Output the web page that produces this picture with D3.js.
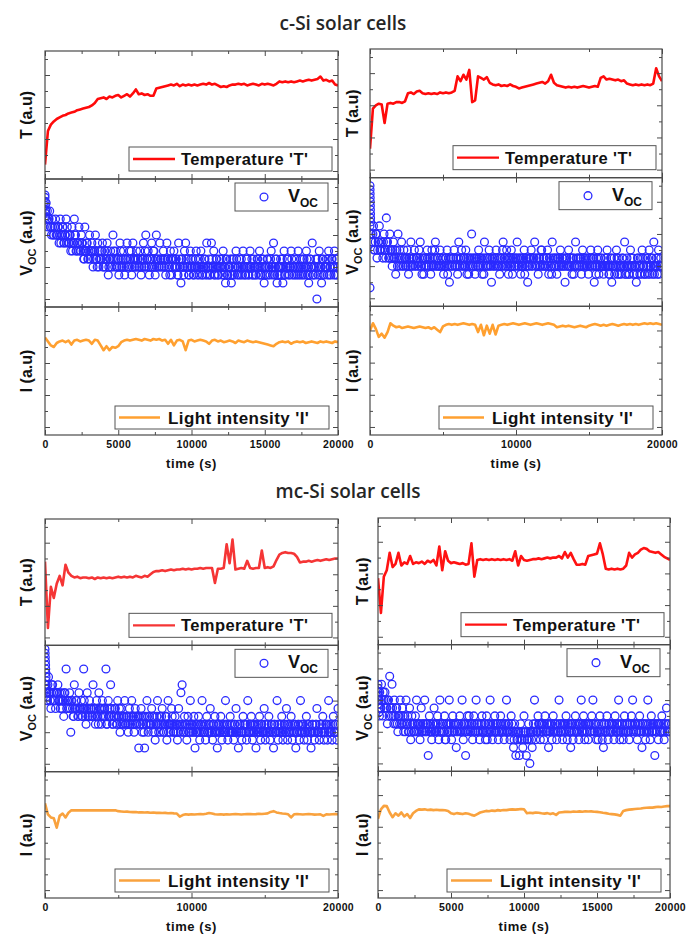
<!DOCTYPE html>
<html>
<head>
<meta charset="utf-8">
<script src="https://cdn.jsdelivr.net/npm/d3@7"></script>
<style>
  body { margin: 0; background: #fff; }
  svg { display: block; }
</style>
</head>
<body>
<svg id="chart" width="687" height="937"></svg>
<script>
// sampling of the series: lines every 200 s, Voc points every 80 s
// (a second Voc reading of the dense core sits half a step later)
const lineStep = 200;
const dotStep = 80;

const ticks5k = [0, 5000, 10000, 15000, 20000];
const ticks10k = [0, 10000, 20000];

// ---- c-Si, left ----
const cT1 = [0.9,3.0,3.4,3.6,3.75,3.85,3.95,4.0,4.1,4.15,
  4.2,4.3,4.35,4.4,4.45,4.5,4.6,4.75,5.0,5.05,
  5.1,5.0,5.15,5.1,5.2,5.25,5.1,5.2,5.3,5.15,
  5.35,5.6,5.3,5.35,5.25,5.3,5.2,5.2,5.65,5.7,
  5.75,5.8,5.85,5.9,5.85,5.95,5.8,5.9,5.85,5.9,
  5.85,5.9,5.85,5.9,5.95,5.9,6.0,5.9,5.95,5.85,
  5.75,5.8,5.75,5.85,5.9,5.9,5.95,5.9,5.95,5.85,
  5.9,5.95,5.9,5.85,5.95,5.9,5.95,5.9,5.85,5.95,
  6.1,6.05,6.1,6.05,6.1,6.05,6.1,6.15,6.1,6.15,
  6.2,6.15,6.2,6.25,6.4,6.15,6.2,6.1,6.15,5.9,
  5.85];
const cV1Head = [[0,13.7],[10,13.2],[20,12.7],[30,12.2],[40,11.7],[50,11.2]];
const cV1 = [14,13,12,11,12,10,11,9,10,11,
  9,10,8,11,9,10,8,9,11,10,
  8,9,7,10,8,11,9,7,8,10,
  7,9,8,6,10,7,8,6,9,7,
  8,5,7,9,6,8,5,7,6,8,
  5,7,6,8,4,6,7,5,9,6,
  7,5,6,4,8,6,5,7,4,6,
  8,5,7,6,4,8,6,5,7,6,
  5,7,4,6,8,5,9,6,7,4,
  6,8,5,7,4,9,6,5,8,6,
  5,7,6,4,8,6,5,7,4,6,
  7,5,6,4,8,5,3,6,5,7,
  8,5,6,4,7,5,6,4,5,7,
  4,6,5,7,4,5,6,4,8,5,
  6,4,8,5,7,4,6,5,4,6,
  5,4,7,5,3,6,4,5,6,3,
  4,6,5,7,4,5,6,4,5,7,
  5,4,6,5,4,7,5,4,6,5,
  4,6,5,7,4,5,6,3,5,4,
  6,5,4,7,5,8,4,6,3,5,
  4,6,5,3,7,4,5,6,4,5,
  7,4,5,6,4,5,7,4,6,5,
  4,6,5,7,4,3,6,5,8,4,
  5,6,1,4,7,5,3,6,4,5,
  6,4,7,5,4,6,5,7,4,6,5];
const cV1Core = [12,11,10,11,10,9,10,9,10,9,
  9,10,9,8,9,10,8,9,8,9,
  8,9,8,7,8,9,7,8,7,8,
  7,8,7,6,7,8,6,7,6,7,
  7,6,7,6,5,7,6,6,7,5,
  6,5,6,7,5,6,5,6,7,5,
  6,5,6,5,7,5,6,5,6,5,
  6,5,6,7,5,6,5,6,5,6,
  5,6,5,6,5,7,5,6,5,6,
  5,6,7,5,6,5,6,5,6,5,
  6,5,6,5,6,5,4,6,5,6,
  5,6,5,4,6,5,6,5,4,5,
  6,5,4,5,6,5,4,5,6,5,
  5,4,6,5,4,5,6,5,4,5,
  4,5,6,5,4,5,6,4,5,5,
  6,5,4,5,6,4,5,5,4,6,
  5,4,5,6,5,4,5,6,4,5,
  4,5,6,4,5,5,6,4,5,4,
  5,6,4,5,4,6,5,4,5,6,
  4,5,6,5,4,5,5,6,4,5,
  5,4,6,5,4,5,6,5,4,5,
  6,5,4,5,6,4,5,5,4,6,
  5,4,5,6,5,4,6,5,4,5,
  4,5,6,5,4,5,6,4,5,5,
  5,6,4,5,6,5,4,5,6,4];
const cI1 = [6.1,5.85,5.6,5.5,5.75,5.85,5.9,5.8,5.9,5.65,
  5.9,5.95,5.85,5.9,5.95,5.9,5.7,5.95,5.9,5.6,
  5.3,5.55,5.3,5.5,5.45,5.55,5.8,5.9,5.95,5.9,
  5.95,6.0,5.95,5.9,6.0,5.95,5.9,6.0,5.95,6.0,
  5.9,5.95,5.7,5.95,5.6,5.9,5.95,5.85,5.3,5.9,
  5.95,5.85,5.9,5.95,5.9,5.85,5.7,5.9,5.95,5.85,
  5.9,5.8,5.85,5.9,5.85,5.75,5.9,5.85,5.8,5.9,
  5.85,5.8,5.85,5.8,5.75,5.7,5.65,5.6,5.55,5.7,
  5.8,5.85,5.8,5.85,5.7,5.8,5.85,5.8,5.85,5.75,
  5.8,5.85,5.8,5.75,5.85,5.8,5.85,5.8,5.75,5.85,
  5.8];

// ---- c-Si, right ----
const cT2 = [1.8,4.3,4.5,4.6,4.55,3.4,4.6,4.65,4.6,4.7,
  4.7,4.65,4.75,5.25,5.3,5.2,5.35,5.4,5.25,5.2,
  5.25,5.2,5.25,5.2,5.3,5.25,5.3,5.25,5.3,5.4,
  6.3,6.0,6.4,6.1,6.7,4.7,4.8,6.3,6.2,6.1,
  6.25,5.9,5.8,5.75,5.8,5.7,5.75,5.7,5.8,5.7,
  5.65,5.55,5.6,5.65,5.7,5.75,5.8,5.85,5.9,5.95,
  5.85,6.0,6.4,5.9,5.75,5.7,5.65,5.6,5.65,5.6,
  5.65,5.6,5.65,5.7,5.65,5.6,5.65,5.7,5.65,6.2,
  6.3,6.1,6.15,6.1,6.05,6.1,6.0,6.05,5.85,5.8,
  5.75,5.8,5.75,5.8,5.75,5.8,5.75,5.85,6.8,6.3,
  6.0];
const cV2Head = [[0,15],[5,14.5],[10,14],[15,13.5],[20,13],[25,12.5],[30,12],[35,11.5],[40,11],[45,10.5],[0,2.3]];
const cV2 = [10,9,8,10,7,9,6,8,10,7,
  8,6,9,7,11,8,6,9,7,5,
  8,6,4,7,9,5,6,8,5,7,
  6,5,7,4,6,8,5,6,7,5,
  6,5,7,8,5,6,4,6,5,7,
  5,6,4,7,5,6,8,5,6,5,
  7,5,6,4,5,6,7,5,3,6,
  5,6,7,5,6,4,8,5,6,5,
  6,5,7,4,6,5,6,9,5,6,
  4,6,5,7,5,6,4,6,8,5,
  6,5,7,5,3,6,5,6,7,5,
  6,4,6,5,8,6,5,7,5,6,
  5,7,4,6,5,6,8,5,6,4,
  6,5,7,5,6,3,5,6,7,5,
  6,8,5,6,4,6,5,7,5,6,
  5,6,7,4,6,5,8,6,5,6,
  4,6,5,7,5,6,5,3,6,5,
  7,5,6,4,6,5,8,5,6,5,
  6,4,7,5,6,5,6,4,5,7,
  5,6,3,5,6,7,4,5,6,5,
  4,6,5,7,5,4,6,3,5,6,
  5,7,4,6,5,4,6,5,8,4,
  6,5,4,7,5,6,4,5,3,6,
  5,4,6,7,5,4,6,5,4,7,
  5,6,4,8,5,6,4,7,5,6,5];
const cV2Core = [9,8,9,7,8,9,7,8,7,8,
  7,8,7,6,8,7,6,7,6,7,
  6,7,6,5,6,7,5,6,5,6,
  5,6,5,6,5,6,5,6,5,6,
  6,5,6,5,4,6,5,6,5,6,
  5,6,5,6,5,7,5,6,5,5,
  6,5,6,5,6,5,4,6,5,6,
  5,6,5,6,5,6,5,6,7,5,
  6,5,6,5,4,6,5,6,5,6,
  5,6,5,6,5,6,5,4,6,5,
  6,5,6,5,6,5,6,5,6,5,
  5,6,5,7,5,6,5,6,4,6,
  6,5,6,5,6,5,6,5,6,5,
  5,6,4,6,5,6,5,6,5,6,
  6,5,6,5,6,5,7,5,6,5,
  5,6,5,6,5,4,6,5,6,5,
  6,5,6,5,6,5,6,5,6,5,
  5,6,5,6,4,5,6,5,6,5,
  6,5,6,5,6,5,5,6,5,6,
  5,6,5,4,5,6,5,6,5,5,
  5,5,6,5,4,5,6,5,5,4,
  5,6,5,4,5,5,6,5,4,5,
  5,4,5,6,5,4,5,5,4,6,
  5,5,4,6,5,4,5,6,5,4,
  5,6,5,4,5,5,6,4,5,5];
const cI2 = [6.5,6.95,6.6,6.1,6.3,6.05,6.4,6.95,6.8,6.7,
  6.75,6.65,6.7,6.75,6.7,6.65,6.7,6.75,6.7,6.65,
  6.7,6.6,6.7,6.55,6.4,6.75,6.85,6.9,6.85,6.9,
  6.85,6.9,6.95,6.9,6.85,6.9,6.85,6.4,6.85,6.2,
  6.8,6.3,6.85,6.25,6.8,6.85,6.9,6.85,6.9,6.95,
  6.9,6.85,6.9,6.95,6.9,6.85,6.9,6.95,6.9,6.85,
  6.9,6.95,6.9,6.85,6.7,6.75,6.8,6.75,6.8,6.75,
  6.7,6.75,6.8,6.75,6.7,6.8,6.85,6.9,6.85,6.8,
  6.85,6.8,6.85,6.9,6.85,6.8,6.85,6.9,6.85,6.9,
  6.85,6.9,6.85,6.9,6.95,6.9,6.95,6.9,6.95,6.9,
  6.85];

// ---- mc-Si, left ----
const mT1 = [5.3,1.1,3.7,3.0,3.9,4.4,3.8,5.1,4.6,4.4,
  4.3,4.35,4.25,4.3,4.3,4.25,4.3,4.2,4.3,4.25,
  4.3,4.25,4.3,4.25,4.3,4.35,4.3,4.35,4.3,4.35,
  4.3,4.4,4.35,4.3,4.4,4.35,4.5,4.65,4.7,4.7,
  4.75,4.7,4.75,4.8,4.75,4.8,4.8,4.85,4.8,4.85,
  4.8,4.85,4.85,4.9,4.85,4.9,4.9,4.9,3.95,4.85,
  4.85,4.9,6.4,5.2,6.7,4.8,4.85,4.9,4.85,5.35,
  4.9,4.85,4.9,4.9,6.0,4.9,4.95,4.9,5.0,5.4,
  5.75,5.85,5.9,5.85,5.85,5.8,5.6,5.25,5.3,5.3,
  5.35,5.3,5.35,5.4,5.35,5.4,5.45,5.4,5.45,5.5,
  5.5];
const mV1Head = [[0,15.5],[10,15],[20,14.5],[30,14],[40,13.5],[50,13],[60,12.5],[70,12],[80,11.5],[90,11],[100,10.5],[110,10],[120,9.5],[130,9]];
const mV1 = [11,10,9,12,10,8,11,9,10,8,
  10,11,9,8,10,9,7,10,13,9,
  8,10,5,9,7,11,8,9,7,10,
  8,9,7,13,8,6,10,7,9,8,
  7,11,8,6,9,7,10,8,6,9,
  7,8,13,6,9,7,11,8,6,7,
  8,6,9,7,5,8,6,7,9,6,
  7,5,8,6,9,7,5,8,6,7,
  3,6,8,5,7,3,6,9,5,7,
  6,8,5,7,4,6,9,5,7,6,
  8,5,6,7,4,9,6,5,8,6,
  5,7,6,4,8,6,10,11,5,7,
  6,4,7,5,9,6,5,7,3,6,
  5,7,4,6,9,5,6,4,7,5,
  6,8,5,4,6,7,5,3,6,5,
  7,4,6,5,9,6,4,5,7,6,
  5,4,6,8,5,3,6,5,4,7,
  5,6,4,9,5,6,7,4,5,6,
  3,6,5,7,4,6,5,8,4,6,
  5,7,4,6,5,3,6,5,9,4,
  6,5,7,4,6,5,8,4,6,5,
  7,4,5,6,3,5,6,4,9,5,
  6,4,5,7,4,6,5,3,6,5,
  4,6,8,5,4,6,5,7,4,5,
  6,4,9,5,6,4,7,5,6,4,8];
const mV1Core = [11,10,11,10,9,10,11,10,9,10,
  10,9,10,9,8,9,10,9,8,9,
  9,8,9,8,7,8,9,8,7,8,
  8,7,8,9,7,8,7,8,7,8,
  7,8,7,8,7,6,8,7,8,7,
  8,7,6,8,7,8,7,6,7,8,
  7,6,7,8,6,7,6,7,6,7,
  6,7,6,7,6,7,6,7,6,7,
  7,6,7,6,5,7,6,7,6,6,
  6,7,6,5,6,7,6,6,5,7,
  6,5,6,7,6,5,6,6,7,5,
  6,5,6,5,6,5,6,6,5,6,
  5,6,5,6,5,6,5,6,5,5,
  6,5,6,5,6,5,5,6,5,6,
  5,6,5,6,5,5,6,5,6,5,
  6,5,5,6,5,6,5,6,5,5,
  5,6,5,5,6,5,6,5,5,6,
  6,5,6,5,5,6,5,6,5,6,
  5,5,6,5,6,5,5,6,5,5,
  6,5,5,6,5,6,5,5,6,5,
  5,6,5,5,6,5,6,5,5,6,
  5,6,5,6,5,5,6,5,6,5,
  6,5,5,6,5,6,5,5,6,5,
  5,6,5,5,6,5,6,5,5,6,
  6,5,6,5,5,6,5,6,5,5];
const mI1 = [6.0,5.3,5.1,5.05,4.45,5.2,5.35,5.1,5.4,5.55,
  5.55,5.55,5.56,5.55,5.56,5.55,5.56,5.55,5.56,5.55,
  5.55,5.56,5.55,5.56,5.55,5.5,5.48,5.46,5.47,5.45,
  5.44,5.45,5.42,5.43,5.41,5.42,5.4,5.41,5.39,5.4,
  5.38,5.39,5.37,5.38,5.36,5.35,5.15,5.25,5.3,5.28,
  5.3,5.29,5.3,5.31,5.3,5.33,5.38,5.35,5.3,5.29,
  5.3,5.28,5.3,5.29,5.3,5.31,5.3,5.29,5.3,5.31,
  5.32,5.3,5.31,5.33,5.32,5.34,5.36,5.45,5.5,5.42,
  5.38,5.35,5.33,5.3,5.1,5.3,5.31,5.3,5.29,5.3,
  5.31,5.3,5.28,5.29,5.3,5.2,5.3,5.29,5.3,5.31,
  5.3];

// ---- mc-Si, right ----
const mT2 = [4.2,2.0,4.3,4.7,5.8,4.9,5.1,5.8,5.0,5.2,
  5.1,5.6,5.1,5.2,5.15,5.25,5.1,5.3,5.2,5.35,
  5.0,6.2,4.7,5.9,5.3,5.15,5.2,5.15,5.1,5.15,
  5.05,5.1,6.4,4.3,5.35,5.4,5.35,5.4,5.35,5.4,
  5.35,5.4,5.35,5.4,5.35,5.4,5.3,5.9,5.0,5.6,
  5.35,5.3,5.35,5.4,5.4,5.45,5.4,5.45,5.5,5.45,
  5.5,5.5,5.6,5.45,5.85,5.5,5.8,5.4,5.05,5.05,
  5.1,5.05,5.6,5.65,5.7,5.75,6.4,5.7,4.8,4.75,
  4.8,4.75,4.8,4.75,4.8,5.0,5.8,5.5,5.7,5.8,
  6.0,6.1,6.05,5.9,5.85,5.8,5.85,5.7,5.55,5.45,
  5.35];
const mV2Head = [[0,11],[12,10.5],[25,10],[37,9.5],[50,9],[62,8.5],[75,8],[87,7.5],[100,7]];
const mV2 = [10,9,8,11,7,9,10,8,6,9,
  12,8,11,7,9,6,8,5,7,9,
  6,8,5,7,9,6,5,8,4,7,
  6,5,7,9,5,6,4,8,5,6,
  9,5,6,2,7,5,4,6,8,5,
  6,7,4,9,5,6,5,7,4,6,
  5,9,6,4,7,5,6,3,5,6,
  7,5,9,4,6,2,5,6,7,5,
  6,4,7,5,9,6,5,4,6,7,
  5,6,4,7,5,6,9,5,4,6,
  7,5,6,4,5,7,6,5,4,6,
  9,5,6,4,7,5,3,6,2,4,
  5,2,6,4,3,7,5,2,4,6,
  1,5,3,6,9,4,5,7,6,4,
  5,6,4,7,5,6,3,5,6,4,
  7,5,6,4,5,9,6,5,4,6,
  5,7,4,6,5,3,6,4,5,7,
  6,5,4,6,9,5,7,4,6,5,
  4,6,5,7,9,5,6,4,5,6,
  7,5,4,3,6,5,7,4,6,5,
  5,6,4,7,5,6,9,4,5,6,
  4,7,5,6,5,4,6,7,9,5,
  6,5,4,6,7,5,3,6,5,4,
  6,9,5,4,7,5,6,2,5,6,
  4,6,5,7,5,4,6,8,5,6,5];
const mV2Core = [9,10,8,9,10,8,9,8,9,7,
  8,7,8,6,7,8,6,7,6,7,
  6,7,6,5,6,7,5,6,5,6,
  5,6,5,6,6,5,6,5,6,5,
  6,5,6,5,6,5,5,6,5,6,
  5,6,5,6,5,6,5,4,6,5,
  6,5,6,5,6,5,6,5,6,5,
  5,6,5,6,5,6,7,5,6,5,
  6,5,6,5,6,5,6,5,6,5,
  5,6,5,4,6,5,6,5,6,5,
  6,5,6,5,6,5,5,6,5,6,
  5,6,5,5,6,5,4,5,5,4,
  5,4,5,4,5,4,5,4,5,4,
  5,4,5,5,6,5,5,6,5,6,
  6,5,6,5,6,5,6,5,6,5,
  5,6,5,6,5,6,5,6,5,6,
  6,5,6,5,6,5,6,5,6,5,
  5,6,5,6,5,6,5,6,5,6,
  6,5,6,5,6,5,6,5,4,5,
  5,6,5,6,5,6,5,6,5,6,
  6,5,6,5,6,5,6,5,6,5,
  5,6,5,6,5,6,5,6,5,6,
  6,5,6,5,6,5,6,5,6,5,
  5,6,5,6,5,6,5,6,5,6,
  6,5,6,5,6,5,6,5,6,5];
const mI2 = [5.0,5.6,5.82,5.8,5.4,5.1,5.35,5.2,5.4,5.15,
  5.3,5.05,5.35,5.5,5.6,5.58,5.6,5.56,5.58,5.55,
  5.57,5.55,5.56,5.54,5.5,5.35,5.3,5.36,5.33,5.3,
  5.35,5.32,5.25,5.2,5.3,5.4,5.45,5.5,5.48,5.52,
  5.5,5.55,5.52,5.56,5.55,5.58,5.6,5.58,5.6,5.62,
  5.6,5.35,5.38,5.36,5.4,5.38,5.35,5.33,5.36,5.3,
  5.35,5.25,5.4,5.42,5.44,5.45,5.43,5.46,5.45,5.47,
  5.45,5.48,5.46,5.47,5.45,5.44,5.42,5.38,5.36,5.32,
  5.3,5.28,5.25,5.2,5.5,5.55,5.58,5.6,5.62,5.64,
  5.65,5.68,5.7,5.72,5.71,5.74,5.76,5.75,5.78,5.8,
  5.8];

const font = '"Liberation Sans", Arial, sans-serif';
const frameColor = '#4a4a4a';
const blue = '#2a2aff';

const groups = [
  { x0: 45, x1: 338, y0: 51, y1: 435, T: cT1, V: cV1, Vcore: cV1Core, Vhead: cV1Head, I: cI1, labels: ticks5k, step: 2500, red: '#ff0a0a', orange: '#ffa030', ylx: 13 },
  { x0: 370, x1: 662, y0: 49, y1: 435, T: cT2, V: cV2, Vcore: cV2Core, Vhead: cV2Head, I: cI2, labels: ticks10k, step: 5000, red: '#ff0a0a', orange: '#ffa030', ylx: 12 },
  { x0: 45, x1: 338, y0: 519, y1: 898, T: mT1, V: mV1, Vcore: mV1Core, Vhead: mV1Head, I: mI1, labels: ticks10k, step: 5000, red: '#f53535', orange: '#f9a23e', ylx: 13 },
  { x0: 378, x1: 670, y0: 518, y1: 898, T: mT2, V: mV2, Vcore: mV2Core, Vhead: mV2Head, I: mI2, labels: ticks5k, step: 2500, red: '#ff1212', orange: '#f9a23e', ylx: 10 }
];

const titles = [
  { text: 'c-Si solar cells', x: 343, y: 30 },
  { text: 'mc-Si solar cells', x: 348, y: 498 }
];

const svg = d3.select('#chart');

svg.selectAll('text.title')
  .data(titles)
  .enter().append('text')
    .attr('class', 'title')
    .attr('x', d => d.x)
    .attr('y', d => d.y)
    .attr('text-anchor', 'middle')
    .style('font-family', '"Open Sans", sans-serif')
    .style('font-weight', 600)
    .style('font-size', '19px')
    .style('fill', '#262626')
    .text(d => d.text);

function inwardTicks(axis, values, size, transform) {
  svg.append('g')
      .attr('transform', transform)
      .call(axis.tickValues(values).tickSize(size).tickSizeOuter(0).tickFormat(''))
      .call(s => s.select('.domain').remove())
      .selectAll('line').attr('stroke', frameColor).attr('stroke-width', 1);
}

function yLabel(g, cx, cy, kind) {
  const t = svg.append('text')
      .attr('transform', 'translate(' + cx + ',' + cy + ') rotate(-90)')
      .attr('text-anchor', 'middle')
      .style('font-family', font)
      .style('font-weight', 'bold')
      .style('font-size', '16px')
      .style('fill', '#111');
  if (kind === 'V') {
    t.append('tspan').text('V');
    t.append('tspan').attr('dy', 4).style('font-size', '11px').text('OC');
    t.append('tspan').attr('dy', -4).text(' (a.u)');
  } else {
    t.text(kind + ' (a.u)');
  }
}

function legendBox(x, y, w, h) {
  svg.append('rect')
      .attr('x', x).attr('y', y)
      .attr('width', w).attr('height', h)
      .attr('fill', '#fff')
      .attr('stroke', '#555')
      .attr('stroke-width', 1);
}

groups.forEach((g, gi) => {
  const x = d3.scaleLinear().domain([0, 20000]).range([g.x0, g.x1]);
  const h = (g.y1 - g.y0) / 3;
  const allX = d3.range(0, 20001, g.step);
  const xMinor = allX.filter(v => !g.labels.includes(v));

  ['T', 'V', 'I'].forEach((kind, r) => {
    const top = g.y0 + r * h;
    const bot = top + h;
    const y = d3.scaleLinear().domain(kind === 'V' ? [0, 16] : [0, 8]).range([bot, top]);
    const clipId = 'clip' + gi + r;

    svg.append('clipPath').attr('id', clipId)
      .append('rect')
        .attr('x', g.x0).attr('y', top)
        .attr('width', g.x1 - g.x0).attr('height', h);

    const layer = svg.append('g').attr('clip-path', 'url(#' + clipId + ')');

    if (kind === 'V') {
      const pts = g.Vhead.concat(
        g.V.map((v, i) => [i * dotStep, v]),
        g.Vcore.map((v, i) => [dotStep / 2 + i * dotStep, v])
      );
      layer.selectAll('circle')
        .data(pts)
        .enter().append('circle')
          .attr('cx', d => x(d[0]))
          .attr('cy', d => y(d[1]))
          .attr('r', 3.9)
          .attr('fill', 'none')
          .attr('stroke', blue)
          .attr('stroke-width', 1.3);
    } else {
      const vals = kind === 'T' ? g.T : g.I;
      const line = d3.line()
        .x((d, i) => x(i * lineStep))
        .y(d => y(d));
      layer.append('path')
        .datum(vals)
        .attr('d', line)
        .attr('fill', 'none')
        .attr('stroke', kind === 'T' ? g.red : g.orange)
        .attr('stroke-width', 2.6)
        .attr('stroke-linejoin', 'round');
    }

    // ticks, all pointing inward
    const yMajor = kind === 'V' ? [1, 5, 9, 13] : [0.5, 2.5, 4.5, 6.5];
    const yMinor = kind === 'V' ? [3, 7, 11, 15] : [1.5, 3.5, 5.5, 7.5];
    inwardTicks(d3.axisBottom(x), g.labels, -5, 'translate(0,' + bot + ')');
    inwardTicks(d3.axisBottom(x), xMinor, -3, 'translate(0,' + bot + ')');
    inwardTicks(d3.axisTop(x), g.labels, -5, 'translate(0,' + top + ')');
    inwardTicks(d3.axisTop(x), xMinor, -3, 'translate(0,' + top + ')');
    inwardTicks(d3.axisLeft(y), yMajor, -5, 'translate(' + g.x0 + ',0)');
    inwardTicks(d3.axisLeft(y), yMinor, -3, 'translate(' + g.x0 + ',0)');
    inwardTicks(d3.axisRight(y), yMajor, -5, 'translate(' + g.x1 + ',0)');
    inwardTicks(d3.axisRight(y), yMinor, -3, 'translate(' + g.x1 + ',0)');

    svg.append('rect')
        .attr('x', g.x0).attr('y', top)
        .attr('width', g.x1 - g.x0).attr('height', h)
        .attr('fill', 'none')
        .attr('stroke', frameColor)
        .attr('stroke-width', 1.2);

    yLabel(g, g.x0 - g.ylx, (top + bot) / 2, kind);

    // legends
    if (kind === 'T') {
      const w = 203, lh = 24;
      const lx = g.x1 - 6 - w, ly = bot - 8 - lh;
      legendBox(lx, ly, w, lh);
      svg.append('line')
          .attr('x1', lx + 4).attr('x2', lx + 46)
          .attr('y1', ly + lh / 2).attr('y2', ly + lh / 2)
          .attr('stroke', g.red).attr('stroke-width', 2.4);
      svg.append('text')
          .attr('x', lx + 52).attr('y', ly + lh / 2 + 6)
          .style('font-family', font).style('font-weight', 'bold')
          .style('font-size', '16.5px').style('letter-spacing', '0.4px')
          .style('fill', '#111')
          .text("Temperature 'T'");
    } else if (kind === 'I') {
      const w = 214, lh = 23;
      const lx = g.x1 - 9 - w, ly = bot - 6 - lh;
      legendBox(lx, ly, w, lh);
      svg.append('line')
          .attr('x1', lx + 4).attr('x2', lx + 45)
          .attr('y1', ly + lh / 2).attr('y2', ly + lh / 2)
          .attr('stroke', g.orange).attr('stroke-width', 2.4);
      svg.append('text')
          .attr('x', lx + 53).attr('y', ly + lh / 2 + 6)
          .style('font-family', font).style('font-weight', 'bold')
          .style('font-size', '17px').style('letter-spacing', '0.4px')
          .style('fill', '#111')
          .text("Light intensity 'I'");
    } else {
      const w = 93, lh = 28;
      const lx = g.x1 - 10 - w, ly = top + 4;
      legendBox(lx, ly, w, lh);
      svg.append('circle')
          .attr('cx', lx + 29).attr('cy', ly + lh / 2)
          .attr('r', 3.9)
          .attr('fill', 'none').attr('stroke', blue).attr('stroke-width', 1.3);
      const lt = svg.append('text')
          .attr('x', lx + 53).attr('y', ly + lh / 2 + 5)
          .style('font-family', font).style('font-weight', 'bold')
          .style('font-size', '18px')
          .style('fill', '#111');
      lt.append('tspan').text('V');
      lt.append('tspan').attr('dy', 5).style('font-size', '12px').text('OC');
    }
  });

  // time labels under the bottom panel
  svg.append('g')
      .attr('transform', 'translate(0,' + g.y1 + ')')
      .call(d3.axisBottom(x).tickValues(g.labels).tickSize(0).tickPadding(6).tickFormat(d3.format('d')))
      .call(s => s.select('.domain').remove())
      .selectAll('text')
        .style('font-family', font)
        .style('font-weight', 'bold')
        .style('font-size', '10.5px')
        .style('letter-spacing', '0.4px')
        .style('fill', '#111');

  svg.append('text')
      .attr('x', (g.x0 + g.x1) / 2)
      .attr('y', g.y1 + 33)
      .attr('text-anchor', 'middle')
      .style('font-family', font)
      .style('font-weight', 'bold')
      .style('font-size', '13px')
      .style('letter-spacing', '0.6px')
      .style('fill', '#111')
      .text('time (s)');
});
</script>
</body>
</html>
